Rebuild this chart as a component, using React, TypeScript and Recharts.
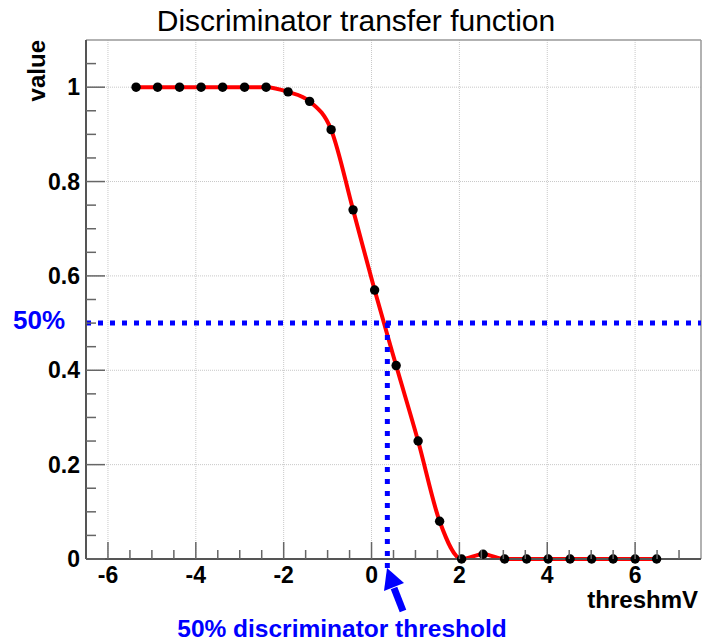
import { LineChart, Line, XAxis, YAxis, ReferenceLine } from 'recharts'

// threshold scan points (mV) and measured fraction
const THRESH_MV = [
  -5.36, -4.87, -4.37, -3.88, -3.39, -2.89, -2.4, -1.9, -1.41, -0.92, -0.42, 0.07, 0.56,
  1.06, 1.55, 2.05, 2.54, 3.03, 3.53, 4.02, 4.52, 5.01, 5.5, 6.0, 6.49,
]
const VALUES = [
  1, 1, 1, 1, 1, 1, 1, 0.99, 0.97, 0.91, 0.74, 0.57, 0.41,
  0.25, 0.08, 0, 0.01, 0, 0, 0, 0, 0, 0, 0, 0,
]

const X_TICKS = [-6, -5.5, -5, -4.5, -4, -3.5, -3, -2.5, -2, -1.5, -1, -0.5, 0, 0.5, 1, 1.5, 2, 2.5, 3, 3.5, 4, 4.5, 5, 5.5, 6, 6.5, 7]
const X_MAJOR = [-6, -4, -2, 0, 2, 4, 6]
const Y_TICKS = [0, 0.05, 0.1, 0.15, 0.2, 0.25, 0.3, 0.35, 0.4, 0.45, 0.5, 0.55, 0.6, 0.65, 0.7, 0.75, 0.8, 0.85, 0.9, 0.95, 1, 1.05]
const Y_MAJOR = [0, 0.2, 0.4, 0.6, 0.8, 1]
const Y_GRID = [0.2, 0.4, 0.6, 0.8, 1]

const X_DOMAIN = [-6.5, 7.5]
const Y_DOMAIN = [0, 1.1]
const HALF_LEVEL = 0.5
const HALF_THRESH = 0.36

const data = THRESH_MV.map((x, i) => ({ x, value: VALUES[i] }))

const FONT = '"Liberation Sans", Arial, Helvetica, sans-serif'
const BLUE = '#0000ff'

const isMajor = (list: number[], v: number) => list.some((m) => Math.abs(m - v) < 1e-6)

function XTick({ x, y, payload }: any) {
  const v = payload.value
  const major = isMajor(X_MAJOR, v)
  return (
    <g>
      <line x1={x} x2={x} y1={y} y2={y - (major ? 17 : 9)} stroke="#666" strokeWidth={1.5} />
      {major && (
        <text x={x} y={y + 24} textAnchor="middle" fontSize={23} fontWeight="bold" fontFamily={FONT} fill="#000">
          {v}
        </text>
      )}
    </g>
  )
}

function YTick({ x, y, payload }: any) {
  const v = payload.value
  const major = isMajor(Y_MAJOR, v)
  return (
    <g>
      <line x1={x} x2={x + (major ? 19 : 10)} y1={y} y2={y} stroke="#666" strokeWidth={1.5} />
      {major && (
        <text x={x - 6} y={y + 8} textAnchor="end" fontSize={23} fontWeight="bold" fontFamily={FONT} fill="#000">
          {Number(v.toFixed(2))}
        </text>
      )}
    </g>
  )
}

export default function App() {
  return (
    <div style={{ position: 'absolute', left: 0, top: 0, width: 702, height: 643, background: '#fff' }}>
      <LineChart width={702} height={643} data={data} margin={{ top: 40, right: 1, bottom: 0, left: 0 }}>
        {X_MAJOR.map((v) => (
          <ReferenceLine key={`gx${v}`} x={v} stroke="#c8c8c8" strokeDasharray="1 1" />
        ))}
        {Y_GRID.map((v) => (
          <ReferenceLine key={`gy${v}`} y={v} stroke="#c8c8c8" strokeDasharray="1 1" />
        ))}
        <ReferenceLine y={Y_DOMAIN[1]} stroke="#999" strokeWidth={1.5} />
        <ReferenceLine x={X_DOMAIN[1]} stroke="#999" strokeWidth={1.5} />
        <XAxis
          dataKey="x"
          type="number"
          domain={X_DOMAIN}
          ticks={X_TICKS}
          interval={0}
          height={84}
          tickSize={0}
          tickMargin={0}
          tickLine={false}
          axisLine={{ stroke: '#555', strokeWidth: 2 }}
          tick={<XTick />}
        />
        <YAxis
          type="number"
          domain={Y_DOMAIN}
          ticks={Y_TICKS}
          interval={0}
          width={86}
          tickSize={0}
          tickMargin={0}
          tickLine={false}
          axisLine={{ stroke: '#555', strokeWidth: 2 }}
          tick={<YTick />}
        />
        <Line
          dataKey="value"
          type="monotone"
          stroke="#ff0000"
          strokeWidth={4}
          dot={{ r: 4.7, fill: '#000', stroke: '#000', strokeWidth: 0 }}
          isAnimationActive={false}
        />
        <ReferenceLine
          segment={[{ x: X_DOMAIN[0], y: HALF_LEVEL }, { x: X_DOMAIN[1], y: HALF_LEVEL }]}
          stroke={BLUE}
          strokeWidth={5}
          strokeDasharray="5 7"
          ifOverflow="visible"
        />
        <ReferenceLine
          segment={[{ x: HALF_THRESH, y: HALF_LEVEL }, { x: HALF_THRESH, y: -0.019 }]}
          stroke={BLUE}
          strokeWidth={5}
          strokeDasharray="5 7"
          ifOverflow="visible"
        />
      </LineChart>
      <svg width={702} height={643} style={{ position: 'absolute', left: 0, top: 0, pointerEvents: 'none' }}>
        <text x={356} y={31} textAnchor="middle" fontSize={30} fontFamily={FONT} fill="#000">
          Discriminator transfer function
        </text>
        <text
          x={45}
          y={40}
          transform="rotate(-90 45 40)"
          textAnchor="end"
          fontSize={24}
          fontWeight="bold"
          fontFamily={FONT}
          fill="#000"
        >
          value
        </text>
        <text x={698} y={608} textAnchor="end" fontSize={24} fontWeight="bold" fontFamily={FONT} fill="#000">
          threshmV
        </text>
        <text x={13} y={329} fontSize={26} fontWeight="bold" fontFamily={FONT} fill={BLUE}>
          50%
        </text>
        <line x1={403} y1={611} x2={394} y2={588} stroke={BLUE} strokeWidth={7} />
        <polygon points="387,568 404,583 384,591" fill={BLUE} />
        <text x={342} y={637} textAnchor="middle" fontSize={24.5} fontWeight="bold" fontFamily={FONT} fill={BLUE}>
          50% discriminator threshold
        </text>
      </svg>
    </div>
  )
}
